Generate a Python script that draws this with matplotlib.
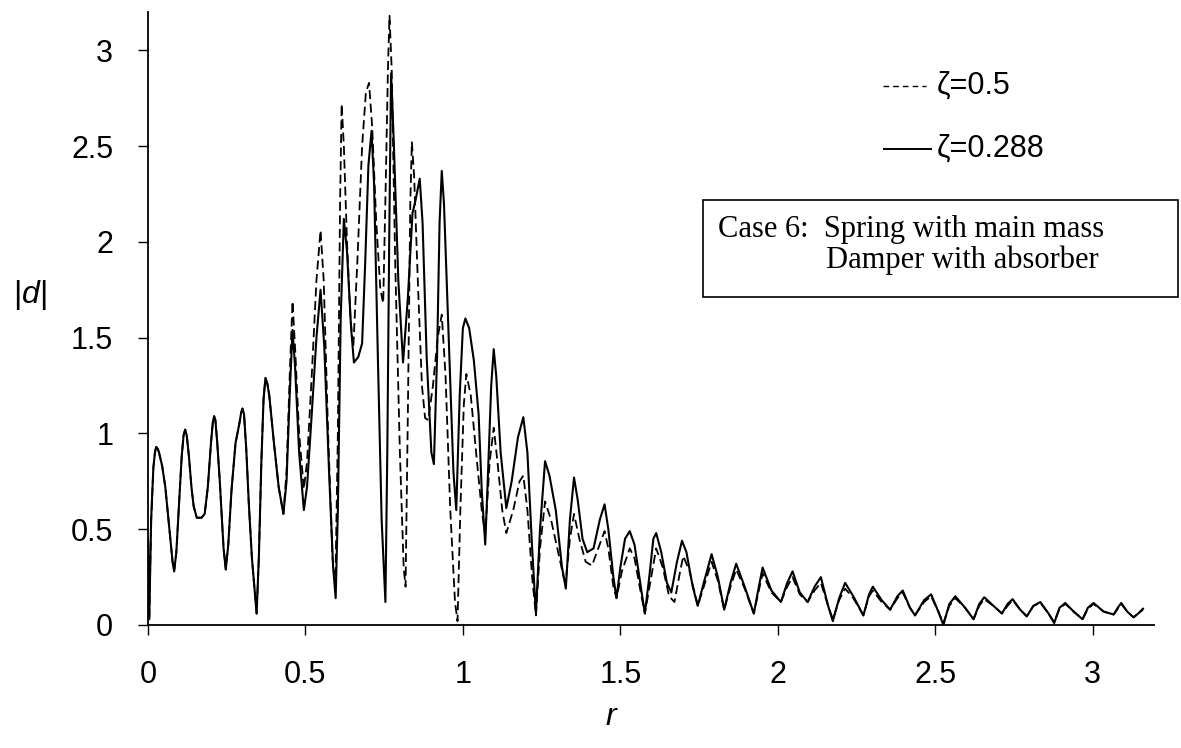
import matplotlib
matplotlib.use("Agg")
import matplotlib.pyplot as plt
from matplotlib.lines import Line2D
from matplotlib.patches import Rectangle
import numpy as np

# |d| against frequency ratio r, read point by point (peaks, troughs, shoulders)
# low-r part where both damping ratios give the same curve
r_low = [0.0, 0.004, 0.01, 0.017, 0.022, 0.026, 0.031, 0.035, 0.045, 0.055, 0.068, 0.078, 0.083,
         0.09, 0.1, 0.107, 0.113, 0.118, 0.123, 0.13, 0.138, 0.145, 0.155, 0.17, 0.18, 0.19,
         0.2, 0.206, 0.21, 0.214, 0.22, 0.228, 0.24, 0.247, 0.255, 0.265, 0.278, 0.29, 0.296,
         0.3, 0.305, 0.312, 0.32, 0.33, 0.345, 0.352, 0.36, 0.367, 0.373, 0.379, 0.385, 0.4,
         0.415]
d_low = [0.45, 0.03, 0.55, 0.82, 0.9, 0.93, 0.92, 0.9, 0.83, 0.72, 0.5, 0.33, 0.28,
         0.38, 0.68, 0.88, 0.99, 1.02, 0.99, 0.88, 0.72, 0.62, 0.56, 0.56, 0.58, 0.72,
         0.95, 1.06, 1.09, 1.07, 0.95, 0.75, 0.4, 0.29, 0.42, 0.7, 0.95, 1.05, 1.11,
         1.13, 1.1, 0.92, 0.64, 0.35, 0.06, 0.35, 0.85, 1.18, 1.29, 1.26, 1.2, 0.95,
         0.72]

# zeta = 0.288 (solid)
r_b = [0.43, 0.44, 0.45, 0.459, 0.467, 0.48, 0.495, 0.505, 0.52, 0.535, 0.548, 0.56,
       0.575, 0.588, 0.596, 0.603, 0.612, 0.622, 0.632, 0.645, 0.654, 0.668, 0.68, 0.69,
       0.7, 0.71, 0.718, 0.73, 0.742, 0.754, 0.76, 0.766, 0.772, 0.78, 0.795, 0.81,
       0.825, 0.84, 0.85, 0.863, 0.872, 0.885, 0.9, 0.908, 0.918, 0.926, 0.933, 0.94,
       0.955, 0.97, 0.979, 0.99, 1.0, 1.008, 1.02, 1.035, 1.05, 1.06, 1.071, 1.08,
       1.09, 1.098, 1.106, 1.12, 1.138, 1.155, 1.175, 1.192, 1.205, 1.22, 1.232, 1.245,
       1.261, 1.275, 1.295, 1.315, 1.327, 1.34, 1.353, 1.365, 1.38, 1.395, 1.415, 1.435,
       1.45, 1.462, 1.478, 1.488, 1.5, 1.515, 1.53, 1.545, 1.565, 1.578, 1.592, 1.605,
       1.614, 1.63, 1.648, 1.662, 1.68, 1.696, 1.71, 1.73, 1.746, 1.765, 1.79, 1.81,
       1.83, 1.85, 1.868, 1.895, 1.924, 1.94, 1.952, 1.98, 2.01, 2.03, 2.047, 2.07,
       2.095, 2.117, 2.137, 2.16, 2.175, 2.195, 2.214, 2.24, 2.272, 2.29, 2.302, 2.33,
       2.357, 2.38, 2.397, 2.42, 2.436, 2.465, 2.487, 2.51, 2.526, 2.545, 2.564, 2.595,
       2.622, 2.64, 2.656, 2.685, 2.712, 2.73, 2.746, 2.77, 2.791, 2.812, 2.834, 2.86,
       2.878, 2.895, 2.913, 2.94, 2.968, 2.985, 3.003, 3.035, 3.067, 3.08, 3.091, 3.11,
       3.13, 3.145, 3.16]
d_b = [0.58, 0.75, 1.2, 1.54, 1.35, 0.9, 0.6, 0.72, 1.1, 1.5, 1.75, 1.45,
       0.8, 0.3, 0.14, 0.6, 1.6, 2.12, 1.95, 1.55, 1.37, 1.4, 1.47, 1.9,
       2.4, 2.58, 2.3, 1.4, 0.55, 0.12, 0.9, 2.0, 2.88, 2.55, 1.8, 1.37,
       1.7, 2.15, 2.22, 2.33, 2.1, 1.4, 0.9, 0.84, 1.4, 2.1, 2.37, 2.2,
       1.5, 0.8, 0.6, 1.2, 1.55, 1.6, 1.55, 1.38, 1.1, 0.7, 0.42, 0.8,
       1.25, 1.44, 1.3, 0.9, 0.61, 0.75, 0.98, 1.085, 0.9, 0.4, 0.06, 0.5,
       0.855, 0.78, 0.6, 0.3, 0.19, 0.55, 0.77, 0.65, 0.45, 0.38, 0.4, 0.55,
       0.63, 0.5, 0.25, 0.14, 0.3, 0.45, 0.49, 0.42, 0.2, 0.06, 0.25, 0.45,
       0.48, 0.38, 0.22, 0.17, 0.33, 0.44, 0.38, 0.2, 0.1, 0.22, 0.37, 0.25,
       0.08, 0.22, 0.32, 0.2, 0.06, 0.2, 0.3, 0.18, 0.12, 0.22, 0.28, 0.17,
       0.12, 0.2, 0.25, 0.1, 0.02, 0.14, 0.22, 0.15, 0.05, 0.16, 0.2, 0.13,
       0.08, 0.15, 0.18, 0.09, 0.05, 0.13, 0.16, 0.07, 0.0, 0.11, 0.15, 0.09,
       0.03, 0.11, 0.145, 0.1, 0.06, 0.11, 0.135, 0.08, 0.045, 0.1, 0.12, 0.06,
       0.01, 0.09, 0.115, 0.07, 0.03, 0.09, 0.115, 0.07, 0.055, 0.09, 0.115, 0.07,
       0.04, 0.06, 0.085]

# zeta = 0.5 (dashed)
r_a = [0.43, 0.44, 0.45, 0.459, 0.467, 0.48, 0.495, 0.505, 0.52, 0.535, 0.548, 0.558,
       0.572, 0.586, 0.595, 0.603, 0.61, 0.615, 0.622, 0.632, 0.643, 0.652, 0.665, 0.68,
       0.692, 0.702, 0.712, 0.725, 0.738, 0.747, 0.755, 0.762, 0.767, 0.774, 0.785, 0.8,
       0.812, 0.818, 0.826, 0.833, 0.838, 0.845, 0.858, 0.87, 0.88, 0.89, 0.905, 0.92,
       0.933, 0.945, 0.96, 0.975, 0.983, 0.992, 1.003, 1.011, 1.025, 1.045, 1.06, 1.071,
       1.085, 1.098, 1.11, 1.125, 1.138, 1.16, 1.18, 1.192, 1.205, 1.22, 1.232, 1.245,
       1.261, 1.28, 1.3, 1.32, 1.327, 1.34, 1.353, 1.37, 1.39, 1.41, 1.43, 1.45,
       1.462, 1.478, 1.488, 1.505, 1.53, 1.545, 1.565, 1.578, 1.595, 1.614, 1.635, 1.655,
       1.672, 1.69, 1.7, 1.72, 1.746, 1.765, 1.79, 1.81, 1.83, 1.85, 1.868, 1.895,
       1.924, 1.94, 1.952, 1.98, 2.01, 2.03, 2.047, 2.07, 2.095, 2.117, 2.137, 2.16,
       2.175, 2.195, 2.214, 2.24, 2.272, 2.29, 2.302, 2.33, 2.357, 2.38, 2.397, 2.42,
       2.436, 2.465, 2.487, 2.51, 2.526, 2.545, 2.564, 2.595, 2.622, 2.64, 2.656, 2.685,
       2.712, 2.73, 2.746, 2.77, 2.791, 2.812, 2.834, 2.86, 2.878, 2.895, 2.913, 2.94,
       2.968, 2.985, 3.003, 3.035, 3.067, 3.08, 3.091, 3.11, 3.13, 3.145, 3.16]
d_a = [0.58, 0.8, 1.3, 1.69, 1.45, 1.0, 0.71, 0.85, 1.3, 1.8, 2.06, 1.8,
       1.0, 0.35, 0.2, 1.0, 2.2, 2.72, 2.5, 2.0, 1.6, 1.45, 1.9, 2.5,
       2.78, 2.83, 2.6, 2.1, 1.75, 1.68, 2.3, 2.9, 3.18, 2.9, 1.9, 0.9,
       0.3, 0.2, 1.2, 2.2, 2.52, 2.35, 1.75, 1.25, 1.08, 1.07, 1.25, 1.5,
       1.62, 1.3, 0.6, 0.12, 0.02, 0.6, 1.15, 1.31, 1.2, 0.85, 0.6, 0.47,
       0.85, 1.03, 0.85, 0.6, 0.48, 0.6, 0.75, 0.78, 0.6, 0.25, 0.05, 0.4,
       0.645, 0.55, 0.4, 0.25, 0.23, 0.45, 0.58, 0.45, 0.33, 0.31, 0.4, 0.49,
       0.4, 0.2, 0.14, 0.28, 0.4, 0.35, 0.17, 0.06, 0.22, 0.4, 0.3, 0.15,
       0.12, 0.28, 0.36, 0.28, 0.1, 0.2, 0.33, 0.23, 0.08, 0.2, 0.29, 0.19,
       0.06, 0.18, 0.27, 0.17, 0.12, 0.2, 0.25, 0.16, 0.12, 0.18, 0.22, 0.1,
       0.03, 0.13, 0.19, 0.14, 0.05, 0.15, 0.18, 0.12, 0.08, 0.14, 0.17, 0.09,
       0.05, 0.12, 0.15, 0.07, 0.01, 0.1, 0.14, 0.09, 0.03, 0.1, 0.135, 0.1,
       0.06, 0.1, 0.13, 0.08, 0.045, 0.1, 0.115, 0.06, 0.015, 0.085, 0.11, 0.07,
       0.03, 0.085, 0.11, 0.07, 0.055, 0.085, 0.11, 0.07, 0.04, 0.06, 0.08]

x_ticks = [0, 0.5, 1, 1.5, 2, 2.5, 3]
x_tick_labels = ["0", "0.5", "1", "1.5", "2", "2.5", "3"]
y_ticks = [0, 0.5, 1, 1.5, 2, 2.5, 3]
y_tick_labels = ["0", "0.5", "1", "1.5", "2", "2.5", "3"]

W, H = 1181, 748


def fx(px):
    return px / W


def fy(py):
    return 1 - py / H


plt.rcParams["font.family"] = ["Liberation Sans", "DejaVu Sans"]
plt.rcParams["mathtext.fontset"] = "custom"
plt.rcParams["mathtext.it"] = "Liberation Sans:italic"

fig = plt.figure(figsize=(W / 100, H / 100), dpi=100)
ax = fig.add_axes([fx(148), fy(625), fx(1154) - fx(148), fy(12) - fy(625)])

r_dash = r_low + r_a
d_dash = d_low + d_a
r_solid = r_low + r_b
d_solid = d_low + d_b

ax.plot(r_dash, d_dash, color="black", lw=1.3, dashes=(5, 2.5))
ax.plot(r_solid, d_solid, color="black", lw=1.5)

ax.set_xlim(0, 3.195)
ax.set_ylim(0, 3.2)
ax.spines["top"].set_visible(False)
ax.spines["right"].set_visible(False)
ax.spines["left"].set_linewidth(1.3)
ax.spines["bottom"].set_linewidth(1.3)

ax.set_xticks(x_ticks)
ax.set_xticklabels(x_tick_labels)
ax.set_yticks(y_ticks)
ax.set_yticklabels(y_tick_labels)
ax.tick_params(axis="x", direction="out", length=7, width=1.0, pad=18, labelsize=22)
ax.tick_params(axis="y", direction="out", length=7, width=1.0, pad=18, labelsize=22)

ax.set_ylabel(r"|$\mathit{d}$|", fontsize=23, rotation=0)
ax.yaxis.set_label_coords(-0.117, 0.51)
ax.set_xlabel(r"$\mathit{r}$", fontsize=23)
ax.xaxis.set_label_coords(0.461, -0.125)

# legend drawn by hand
fig.add_artist(Line2D([fx(883), fx(926)], [fy(86), fy(86)], color="black", lw=1.0,
                      dashes=(4, 3)))
fig.text(fx(937), fy(86), "ζ=0.5", fontsize=22, va="center", ha="left")
fig.add_artist(Line2D([fx(884), fx(931)], [fy(149), fy(149)], color="black", lw=1.4))
fig.text(fx(937), fy(149), "ζ=0.288", fontsize=22, va="center", ha="left")

# annotation box
fig.add_artist(Rectangle((fx(703), fy(297)), fx(1178) - fx(703), fy(200) - fy(297),
                         fill=False, edgecolor="black", lw=1.2))
fig.text(fx(718), fy(237), "Case 6:  Spring with main mass", fontsize=22,
         family="Liberation Serif", va="baseline", ha="left")
fig.text(fx(826), fy(268), "Damper with absorber", fontsize=22,
         family="Liberation Serif", va="baseline", ha="left")

fig.savefig("out.png", dpi=100)
